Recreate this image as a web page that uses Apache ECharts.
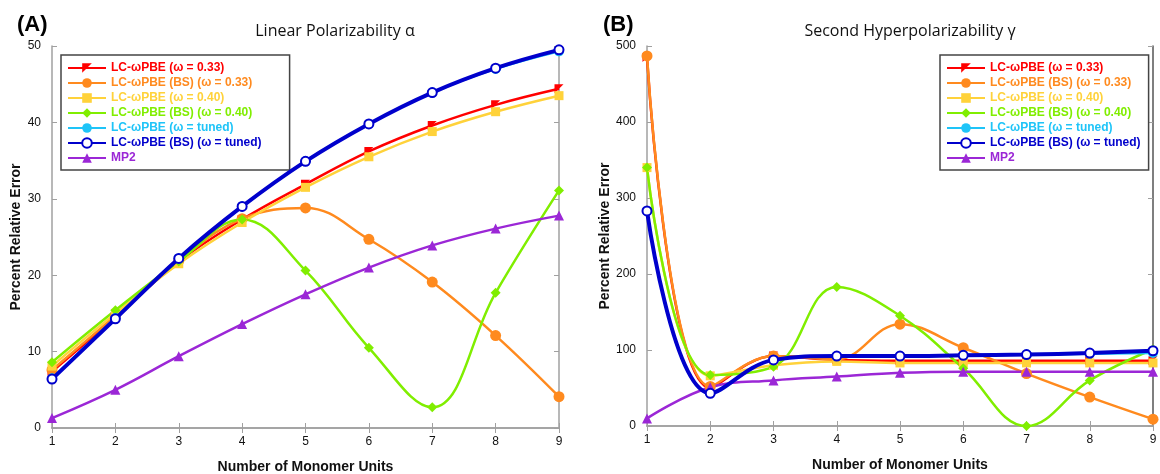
<!DOCTYPE html>
<html>
<head>
<meta charset="utf-8">
<script src="https://cdn.jsdelivr.net/npm/echarts@6/dist/echarts.min.js"></script>
<style>
  html, body { margin: 0; padding: 0; background: #fff; }
  #chart { width: 1160px; height: 474px; }
</style>
</head>
<body>
<div id="chart"></div>
<script>
// monomer units on the x axis
const units = [1, 2, 3, 4, 5, 6, 7, 8, 9];

// (A) linear polarizability, percent relative error
const alphaLC033 = [7.4, 14.5, 21.8, 27.3, 31.9, 36.2, 39.6, 42.3, 44.4];
const alphaLC033BS = [7.6, 14.7, 21.9, 27.4, 28.8, 24.7, 19.1, 12.1, 4.1];
const alphaLC040 = [8.1, 15.0, 21.5, 26.9, 31.5, 35.5, 38.8, 41.4, 43.5];
const alphaLC040BS = [8.6, 15.4, 21.8, 27.3, 20.6, 10.5, 2.7, 17.7, 31.1];
const alphaTuned = [6.5, 14.4, 22.2, 29.0, 34.9, 39.8, 43.9, 47.0, 49.3];
const alphaTunedBS = [6.4, 14.3, 22.2, 29.0, 34.9, 39.8, 43.9, 47.1, 49.5];
const alphaMP2 = [1.3, 5.0, 9.4, 13.6, 17.5, 21.0, 23.9, 26.1, 27.8];

// (B) second hyperpolarizability, percent relative error
const gammaLC033 = [485, 50, 92, 87, 86, 86, 86, 86, 86];
const gammaLC033BS = [487, 52, 92, 88, 134, 103, 69, 38, 9];
const gammaLC040 = [340, 66, 80, 85, 83, 83, 83, 83, 83];
const gammaLC040BS = [340, 67, 78, 183, 145, 76, 0, 60, 101];
const gammaTuned = [283, 43, 87, 92, 92, 93, 94, 95, 96];
const gammaTunedBS = [283, 43, 87, 92, 92, 93, 94, 96, 99];
const gammaMP2 = [10, 51, 60, 65, 70, 71.5, 71.5, 71.5, 71.5];

const names = [
  "LC-ωPBE (ω = 0.33)",
  "LC-ωPBE (BS) (ω = 0.33)",
  "LC-ωPBE (ω = 0.40)",
  "LC-ωPBE (BS) (ω = 0.40)",
  "LC-ωPBE (ω = tuned)",
  "LC-ωPBE (BS) (ω = tuned)",
  "MP2"
];

const colors = ["#ff0000", "#ff8a1e", "#ffd23a", "#80ee00", "#1ec4f8", "#0000cc", "#9b27d6"];

// marker per method
const markers = [
  { symbol: "path://M0,0L10,0L0,10Z", size: 9, width: 2.5 },
  { symbol: "circle", size: 11, width: 2.5 },
  { symbol: "rect", size: 9, width: 2.5 },
  { symbol: "diamond", size: 10, width: 2.5 },
  { symbol: "circle", size: 10, width: 2.5 },
  { symbol: "emptyCircle", size: 9, width: 4 },
  { symbol: "triangle", size: 10, width: 2.5 }
];

const alphaSets = [alphaLC033, alphaLC033BS, alphaLC040, alphaLC040BS, alphaTuned, alphaTunedBS, alphaMP2];
const gammaSets = [gammaLC033, gammaLC033BS, gammaLC040, gammaLC040BS, gammaTuned, gammaTunedBS, gammaMP2];

const font = "'Liberation Sans', Arial, sans-serif";
const axisGray = "#a0a0a0";

function makeSeries(sets, axisIndex) {
  return sets.map((vals, i) => ({
    name: names[i],
    type: "line",
    xAxisIndex: axisIndex * 2,
    yAxisIndex: axisIndex * 2,
    smooth: 0.4,
    symbol: markers[i].symbol,
    symbolSize: markers[i].size,
    symbolKeepAspect: true,
    showAllSymbol: true,
    lineStyle: { color: colors[i], width: markers[i].width },
    itemStyle:
      markers[i].symbol === "emptyCircle"
        ? { color: colors[i], borderColor: colors[i], borderWidth: 2 }
        : { color: colors[i] },
    z: i === 5 ? 4 : 3,
    data: vals.map((v, k) => [units[k], v])
  }));
}

function legend(left, top, padRight) {
  return {
    left: left,
    top: top,
    orient: "vertical",
    backgroundColor: "#fff",
    borderColor: "#444",
    borderWidth: 1.5,
    borderRadius: 0,
    padding: [6, padRight, 5, 6],
    itemWidth: 38,
    itemHeight: 12,
    itemGap: 1,
    data: names.map((n, i) => ({
      name: n,
      textStyle: { color: colors[i], fontWeight: "bold", fontSize: 12, fontFamily: font, lineHeight: 14 }
    }))
  };
}

function xAxes(gridIndex) {
  return [
    {
      gridIndex: gridIndex,
      type: "value",
      min: 1,
      max: 9,
      interval: 1,
      name: "Number of Monomer Units",
      nameLocation: "middle",
      nameGap: 32,
      nameTextStyle: { fontFamily: font, fontWeight: "bold", fontSize: 14, color: "#111" },
      axisLine: { lineStyle: { color: axisGray, width: 1.5 } },
      axisTick: { inside: true, length: 5, lineStyle: { color: axisGray } },
      axisLabel: { fontFamily: font, fontSize: 12, color: "#111", margin: 8 },
      splitLine: { show: false }
    },
    {
      gridIndex: gridIndex,
      type: "value",
      position: "top",
      min: 1,
      max: 9,
      interval: 1,
      axisLine: { lineStyle: { color: axisGray, width: 1.5 } },
      axisTick: { inside: true, length: 5, lineStyle: { color: axisGray } },
      axisLabel: { show: false },
      splitLine: { show: false }
    }
  ];
}

function yAxes(gridIndex, max, interval, rightColor) {
  return [
    {
      gridIndex: gridIndex,
      type: "value",
      min: 0,
      max: max,
      interval: interval,
      name: "Percent Relative Error",
      nameLocation: "middle",
      nameGap: gridIndex === 0 ? 29 : 28,
      nameTextStyle: { fontFamily: font, fontWeight: "bold", fontSize: 14, color: "#111" },
      axisLine: { show: true, lineStyle: { color: axisGray, width: 1.5 } },
      axisTick: { show: true, inside: true, length: 5, lineStyle: { color: axisGray } },
      axisLabel: { fontFamily: font, fontSize: 12, color: "#111", margin: 11 },
      splitLine: { show: false }
    },
    {
      gridIndex: gridIndex,
      type: "value",
      position: "right",
      min: 0,
      max: max,
      interval: interval,
      axisLine: { show: true, lineStyle: { color: rightColor, width: 1.5 } },
      axisTick: { show: true, inside: true, length: 5, lineStyle: { color: axisGray } },
      axisLabel: { show: false },
      splitLine: { show: false }
    }
  ];
}

const chart = echarts.init(document.getElementById("chart"));

const option = {
  animation: false,
  backgroundColor: "#fff",
  title: [
    { text: "(A)", left: 12, top: 9, textStyle: { fontFamily: font, fontWeight: "bold", fontSize: 22, color: "#000" } },
    { text: "Linear Polarizability α", left: 330, top: 18, textAlign: "center", textStyle: { fontFamily: "'Open Sans', sans-serif", fontWeight: "normal", fontSize: 16, color: "#111" } },
    { text: "(B)", left: 598, top: 9, textStyle: { fontFamily: font, fontWeight: "bold", fontSize: 22, color: "#000" } },
    { text: "Second Hyperpolarizability γ", left: 905, top: 18, textAlign: "center", textStyle: { fontFamily: "'Open Sans', sans-serif", fontWeight: "normal", fontSize: 16, color: "#111" } }
  ],
  legend: [legend(61, 55, 28), legend(940, 55, 8)],
  grid: [
    { left: 52, right: 601, top: 46, bottom: 46, outerBoundsMode: "none" },
    { left: 647, right: 7, top: 46, bottom: 48, outerBoundsMode: "none" }
  ],
  xAxis: [...xAxes(0), ...xAxes(1)],
  yAxis: [...yAxes(0, 50, 10, axisGray), ...yAxes(1, 500, 100, "#555")],
  series: [...makeSeries(alphaSets, 0), ...makeSeries(gammaSets, 1)]
};

chart.setOption(option);
</script>
</body>
</html>
